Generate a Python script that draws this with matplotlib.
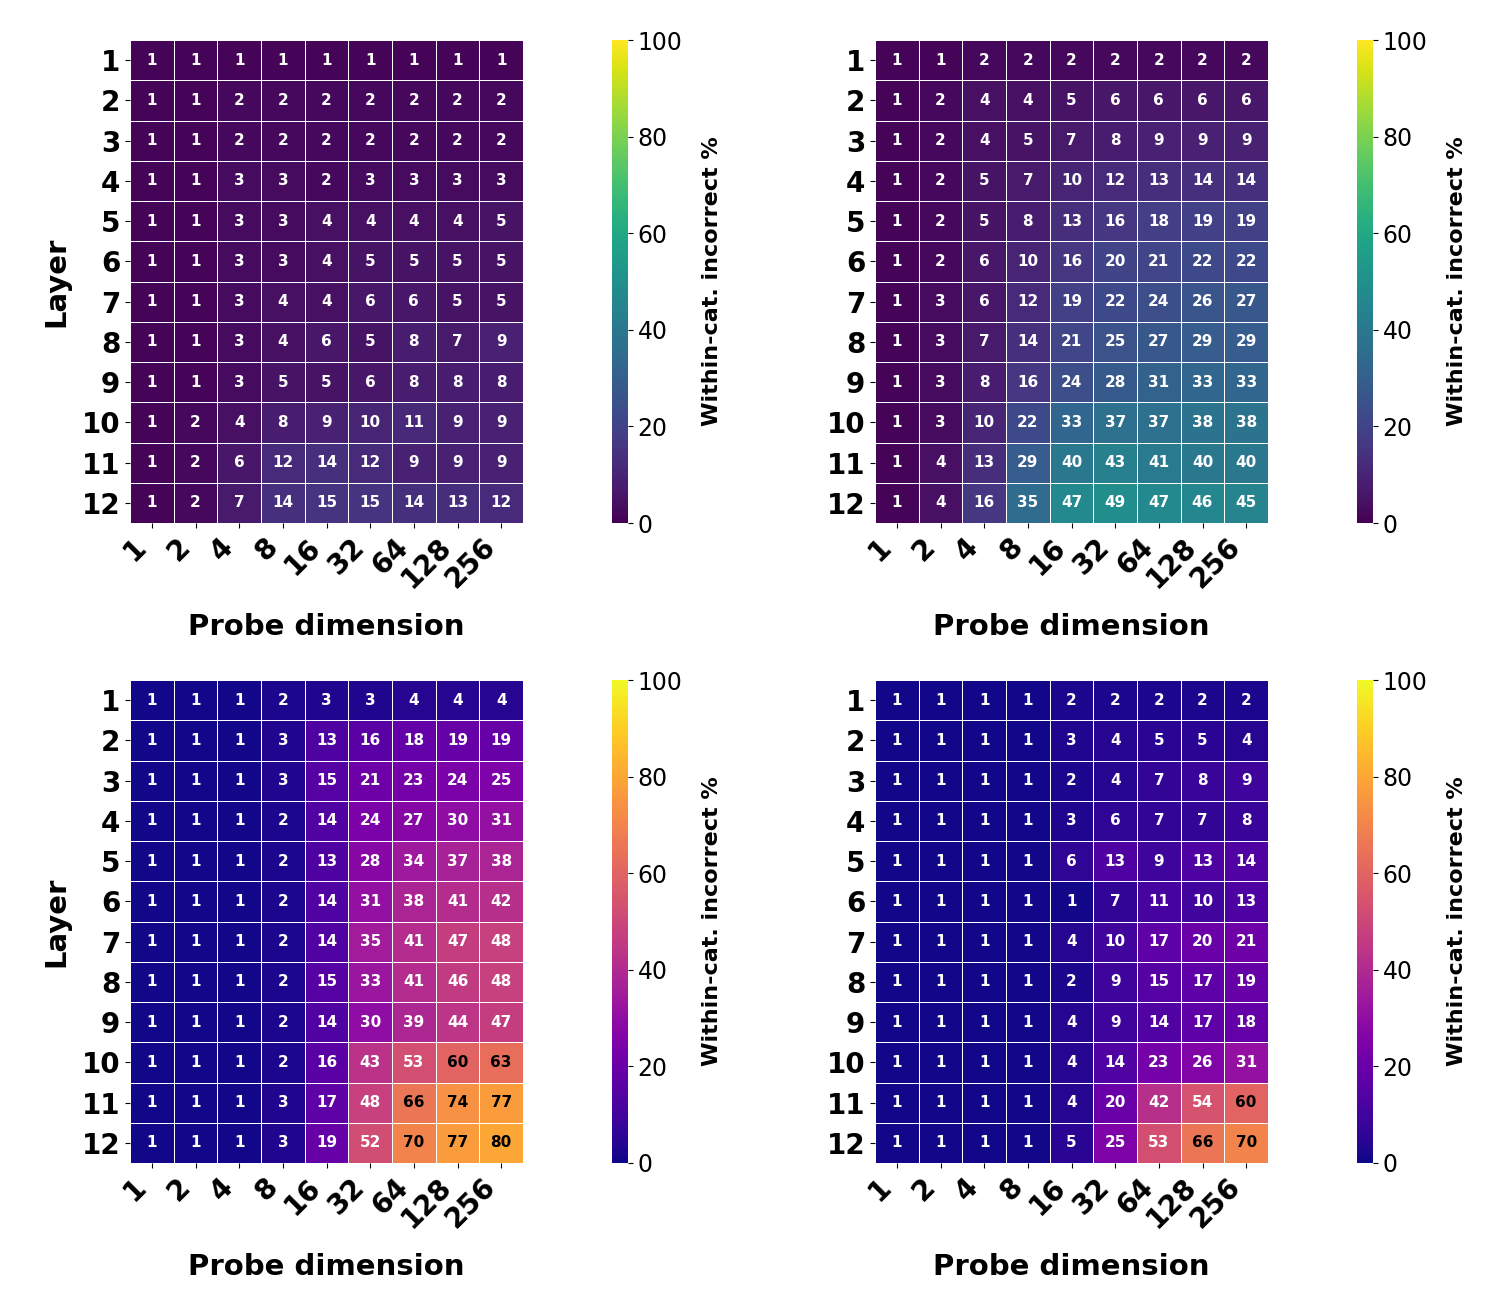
import numpy as np
import matplotlib
matplotlib.use("Agg")
import matplotlib.pyplot as plt

layers = [str(i) for i in range(1, 13)]
dims = ["1", "2", "4", "8", "16", "32", "64", "128", "256"]

tl = [[1,1,1,1,1,1,1,1,1],[1,1,2,2,2,2,2,2,2],[1,1,2,2,2,2,2,2,2],[1,1,3,3,2,3,3,3,3],
      [1,1,3,3,4,4,4,4,5],[1,1,3,3,4,5,5,5,5],[1,1,3,4,4,6,6,5,5],[1,1,3,4,6,5,8,7,9],
      [1,1,3,5,5,6,8,8,8],[1,2,4,8,9,10,11,9,9],[1,2,6,12,14,12,9,9,9],[1,2,7,14,15,15,14,13,12]]
tr = [[1,1,2,2,2,2,2,2,2],[1,2,4,4,5,6,6,6,6],[1,2,4,5,7,8,9,9,9],[1,2,5,7,10,12,13,14,14],
      [1,2,5,8,13,16,18,19,19],[1,2,6,10,16,20,21,22,22],[1,3,6,12,19,22,24,26,27],[1,3,7,14,21,25,27,29,29],
      [1,3,8,16,24,28,31,33,33],[1,3,10,22,33,37,37,38,38],[1,4,13,29,40,43,41,40,40],[1,4,16,35,47,49,47,46,45]]
bl = [[1,1,1,2,3,3,4,4,4],[1,1,1,3,13,16,18,19,19],[1,1,1,3,15,21,23,24,25],[1,1,1,2,14,24,27,30,31],
      [1,1,1,2,13,28,34,37,38],[1,1,1,2,14,31,38,41,42],[1,1,1,2,14,35,41,47,48],[1,1,1,2,15,33,41,46,48],
      [1,1,1,2,14,30,39,44,47],[1,1,1,2,16,43,53,60,63],[1,1,1,3,17,48,66,74,77],[1,1,1,3,19,52,70,77,80]]
br = [[1,1,1,1,2,2,2,2,2],[1,1,1,1,3,4,5,5,4],[1,1,1,1,2,4,7,8,9],[1,1,1,1,3,6,7,7,8],
      [1,1,1,1,6,13,9,13,14],[1,1,1,1,1,7,11,10,13],[1,1,1,1,4,10,17,20,21],[1,1,1,1,2,9,15,17,19],
      [1,1,1,1,4,9,14,17,18],[1,1,1,1,4,14,23,26,31],[1,1,1,1,4,20,42,54,60],[1,1,1,1,5,25,53,66,70]]

W, H = 1500, 1316
fig = plt.figure(figsize=(15, 13.16), dpi=100)

panels = [(tl, "viridis", 130, 40, 612, True), (tr, "viridis", 875, 40, 1357, False),
          (bl, "plasma", 130, 680, 612, True), (br, "plasma", 875, 680, 1357, False)]

for data, cmap, x0, y0, cx, ylab in panels:
    d = np.array(data)
    ax = fig.add_axes([x0 / W, 1 - (y0 + 483) / H, 393 / W, 483 / H])
    m = ax.pcolormesh(np.arange(10), np.arange(13), d, cmap=cmap, vmin=0, vmax=100,
                      edgecolor="white", linewidth=0.5)
    ax.set_xlim(0, 9); ax.set_ylim(12, 0)
    for i in range(12):
        for j in range(9):
            v = d[i, j]
            col = "black" if (cmap == "plasma" and v >= 60) else "white"
            ax.text(j + 0.5, i + 0.5, str(v), ha="center", va="center", color=col,
                    fontsize=11, fontweight="bold")
    ax.set_xticks(np.arange(9) + 0.5)
    ax.set_xticklabels(dims, rotation=45, ha="right", fontsize=20, fontweight="bold")
    ax.set_yticks(np.arange(12) + 0.5)
    ax.set_yticklabels(layers, fontsize=20, fontweight="bold")
    for s in ax.spines.values():
        s.set_visible(False)
    ax.set_xlabel("Probe dimension", fontsize=21, fontweight="bold", labelpad=14)
    if ylab:
        ax.set_ylabel("Layer", fontsize=21, fontweight="bold", labelpad=8)
    cax = fig.add_axes([cx / W, 1 - (y0 + 483) / H, 16 / W, 483 / H])
    cb = fig.colorbar(m, cax=cax)
    cb.outline.set_visible(False)
    cb.set_ticks([0, 20, 40, 60, 80, 100])
    cb.ax.tick_params(labelsize=17)
    cb.set_label("Within-cat. incorrect %", fontsize=16, fontweight="bold", labelpad=14)

fig.savefig("out.png", dpi=100)
